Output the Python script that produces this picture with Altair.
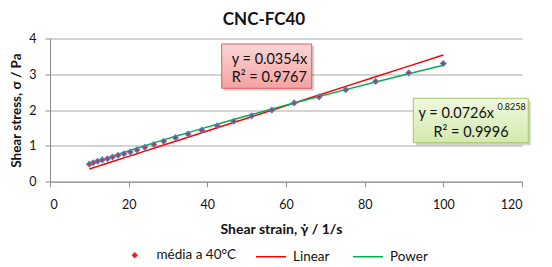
import altair as alt
import pandas as pd

# ---- data ----
shear_rate = [10.0, 11.0, 12.1, 13.3, 14.6, 15.9, 17.3, 18.8, 20.4, 22.1, 24.1, 26.4, 28.9,
              31.9, 35.1, 38.6, 42.5, 46.7, 51.3, 56.4, 62.1, 68.4, 75.2, 82.8, 91.2, 100.0]
shear_stress = [0.49, 0.53, 0.57, 0.61, 0.64, 0.69, 0.74, 0.78, 0.83, 0.89, 0.96, 1.04, 1.13,
                1.23, 1.33, 1.44, 1.56, 1.69, 1.84, 2.00, 2.20, 2.37, 2.57, 2.80, 3.04, 3.30]
linear_coef = 0.0354
linear_r2 = 0.9767
power_coef = 0.0726
power_exp = 0.8258
power_r2 = 0.9996
series_names = ["média a 40°C", "Linear", "Power"]
x_ticks = [0, 20, 40, 60, 80, 100, 120]
y_ticks = [0, 1, 2, 3, 4]

FONT = "Lato"
W, H = 472, 143.2

df = pd.DataFrame({"rate": shear_rate, "stress": shear_stress})
one = pd.DataFrame({"k": [0]})

x_axis = alt.Axis(
    values=x_ticks, grid=False, title="Shear strain, γ̇ / 1/s",
    domainColor="#8C8C8C", tickColor="#8C8C8C", tickSize=5,
    labelFont=FONT, labelFontSize=12.5, labelColor="#111", labelPadding=12,
    titleFont=FONT, titleFontSize=14, titleFontWeight="bold", titleColor="#111",
    titleX=W / 2 - 5, titleY=48, titleBaseline="middle", titleAnchor="middle",
)
y_axis = alt.Axis(
    values=y_ticks, grid=True, gridColor="#A8A8A8", title="Shear stress, σ / Pa",
    domainColor="#8C8C8C", tickColor="#8C8C8C", tickSize=5, labelOverlap=False,
    labelFont=FONT, labelFontSize=12.5, labelColor="#111", labelPadding=9,
    titleFont=FONT, titleFontSize=13.5, titleFontWeight="bold", titleColor="#111",
    titleX=-33.5, titleY=H / 2, titleBaseline="middle", titleAngle=-90, titleAnchor="middle",
)
x_scale = alt.Scale(domain=[0, 120], nice=False)
y_scale = alt.Scale(domain=[0, 4], nice=False)

lines = alt.Chart(df).transform_calculate(
    Linear=f"{linear_coef} * datum.rate",
    Power=f"{power_coef} * pow(datum.rate, {power_exp})",
).transform_fold(["Linear", "Power"], as_=["series", "fit"]).mark_line(strokeWidth=1.5).encode(
    x=alt.X("rate:Q", scale=x_scale, axis=x_axis),
    y=alt.Y("fit:Q", scale=y_scale, axis=y_axis),
    color=alt.Color(
        "series:N",
        scale=alt.Scale(domain=series_names[1:], range=["#FF0000", "#00B050"]),
        legend=alt.Legend(
            title=None, orient="none", legendX=205, legendY=202, direction="horizontal",
            symbolType="stroke", symbolSize=900, symbolStrokeWidth=1.5,
            labelFont=FONT, labelFontSize=13.5, labelColor="#111", labelOffset=6,
            columnPadding=20, padding=0,
        ),
    ),
    detail="series:N",
)

points = alt.Chart(df).transform_calculate(
    name=f"'{series_names[0]}'"
).mark_point(filled=True, fill="#E8202A", stroke="#4F81BD", strokeWidth=1.3, size=28, opacity=1).encode(
    x=alt.X("rate:Q", scale=x_scale, axis=x_axis),
    y=alt.Y("stress:Q", scale=y_scale, axis=y_axis),
    shape=alt.Shape(
        "name:N",
        scale=alt.Scale(domain=series_names[:1], range=["diamond"]),
        legend=alt.Legend(
            title=None, orient="none", legendX=78, legendY=210, symbolSize=40,
            symbolFillColor="#E8202A", symbolStrokeColor="#4F81BD", symbolStrokeWidth=1.3,
            labelFont=FONT, labelFontSize=13.5, labelColor="#111", labelOffset=15, padding=0,
        ),
    ),
)


def box(x1, y1, x2, y2, top, bottom, border):
    shadow = alt.Chart(one).mark_rect(fill="#000", opacity=0.18).encode(
        x=alt.value(x1 + 2.5), x2=alt.value(x2 + 2.5), y=alt.value(y1 + 2.5), y2=alt.value(y2 + 2.5)
    )
    face = alt.Chart(one).mark_rect(
        fill=alt.LinearGradient(
            gradient="linear", x1=0, x2=0, y1=0, y2=1,
            stops=[alt.GradientStop(color=top, offset=0), alt.GradientStop(color=bottom, offset=1)],
        ),
        stroke=border, strokeWidth=1,
    ).encode(x=alt.value(x1), x2=alt.value(x2), y=alt.value(y1), y2=alt.value(y2))
    return shadow + face


def label(text, x, y, size=14.5, align="left"):
    return alt.Chart(one).mark_text(
        align=align, baseline="middle", font=FONT, fontSize=size, color="#111"
    ).encode(x=alt.value(x), y=alt.value(y), text=alt.value(text))


red_box = box(171.7, 5.5, 261.7, 49.8, "#FBD6D6", "#F4A2A2", "#D9625F")
green_box = box(363.3, 59.8, 478.3, 104.2, "#EFF8DF", "#D3EAAE", "#A5C667")

annots = (
    red_box
    + label(f"y = {linear_coef}x", 181.7, 21.5)
    + label(f"R² = {linear_r2}", 181.7, 39.8)
    + green_box
    + label(f"y = {power_coef}x", 368.5, 75.5)
    + label(f"{power_exp}", 447.5, 69, size=9)
    + label(f"R² = {power_r2}", 421, 94.2, align="center")
)

chart = alt.layer(lines, points, annots).properties(
    width=W, height=H,
    autosize=alt.AutoSizeParams(type="none"),
    padding={"left": 42, "top": 30.5, "right": 22, "bottom": 85},
    title=alt.TitleParams(
        "CNC-FC40", font=FONT, fontSize=17, fontWeight="bold", color="#111",
        anchor="middle", frame="group", dx=-22, offset=3,
    ),
).configure_view(stroke=None).resolve_scale(color="independent", shape="independent")

chart.save("out.html", embed_options={"renderer": "svg", "actions": False})
